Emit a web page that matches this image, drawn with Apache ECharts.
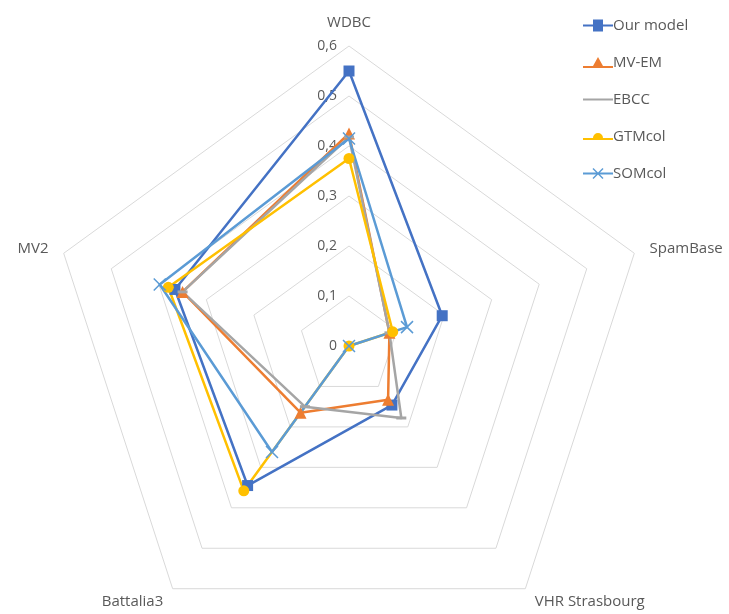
<!DOCTYPE html>
<html><head><meta charset="utf-8">
<script src="https://cdn.jsdelivr.net/npm/echarts@6/dist/echarts.min.js"></script>
<style>html,body{margin:0;padding:0;background:#fff}#c{width:729px;height:614px}</style>
</head><body><div id="c"></div>
<script>
// Indicators in ECharts (counter-clockwise) order starting from top
const categories = ['WDBC', 'MV2', 'Battalia3', 'VHR Strasbourg', 'SpamBase'];
const tickValues = [0, 0.1, 0.2, 0.3, 0.4, 0.5, 0.6];
const seriesNames = ['Our model', 'MV-EM', 'EBCC', 'GTMcol', 'SOMcol'];
const ourModel = [0.55, 0.366, 0.345, 0.146, 0.196];
const mvEm     = [0.425, 0.35, 0.165, 0.133, 0.085];
const ebcc     = [0.418, 0.35, 0.15, 0.178, 0.085];
const gtmCol   = [0.375, 0.38, 0.358, 0, 0.092];
const somCol   = [0.415, 0.398, 0.262, 0, 0.122];

const values = [ourModel, mvEm, ebcc, gtmCol, somCol];
const colors = ['#4472C4', '#ED7D31', '#A5A5A5', '#FFC000', '#5B9BD5'];
const symbols = ['rect', 'triangle', 'rect', 'circle', 'path://M0,0L10,10M10,0L0,10'];
const symbolSizes = [11, 12, [10, 3], 11, 12];
const font = 'Open Sans, Liberation Sans, sans-serif';
const maxV = tickValues[tickValues.length - 1];
const fmt = v => String(Math.round(v * 10) / 10).replace('.', ',');

const chart = echarts.init(document.getElementById('c'));
const legendIcons = [
  'path://M0,6h10v-5h10v5h10v2h-10v5h-10v-5h-10z',
  'path://M0,9h10l5,-9l5,9h10v2h-30z',
  'path://M0,6h30v2h-30z',
  'path://M0,9h10a5,5 0 1,1 10,0h10v2h-30z',
  'path://M0,6h30v2h-30zM9.5,2.5L10.5,1.5L20.5,11.5L19.5,12.5zM19.5,1.5L20.5,2.5L10.5,12.5L9.5,11.5z'
];
chart.setOption({
  animation: false,
  color: colors,
  legend: {
    orient: 'vertical', left: 578, top: 13,
    itemWidth: 30, itemHeight: 13, itemGap: 22,
    textStyle: { color: '#595959', fontSize: 15, fontFamily: font, padding: [0, 0, 0, -5] },
    data: seriesNames.map((n, i) => ({ name: n, icon: legendIcons[i], itemStyle: { color: colors[i], borderWidth: 0 } }))
  },
  radar: {
    center: [349, 346], radius: 300, startAngle: 90,
    shape: 'polygon', splitNumber: 6,
    indicator: categories.map(c => ({ name: c, min: 0, max: maxV })),
    axisName: { color: '#595959', fontSize: 15, fontFamily: font },
    nameGap: 16,
    axisLine: { show: false },
    axisTick: { show: false },
    axisLabel: { show: false },
    splitArea: { show: false },
    splitLine: { lineStyle: { color: '#D9D9D9', width: 1 } }
  },
  polar: { center: [349, 346], radius: 300 },
  angleAxis: { startAngle: 90, show: false, min: 0, max: 360 },
  radiusAxis: {
    min: 0, max: maxV, interval: 0.1,
    axisLine: { show: false }, axisTick: { show: false }, splitLine: { show: false },
    axisLabel: { color: '#595959', fontSize: 14, fontFamily: font, margin: 12, formatter: fmt }
  },
  series: seriesNames.map((n, i) => ({
    name: n, type: 'radar',
    symbol: symbols[i], symbolSize: symbolSizes[i],
    lineStyle: { color: colors[i], width: 2.5 },
    itemStyle: i === 4 ? { color: 'none', borderColor: colors[i], borderWidth: 1.5 } : { color: colors[i], borderWidth: 0 },
    data: [{ value: values[i], name: n }]
  }))
});
</script></body></html>
